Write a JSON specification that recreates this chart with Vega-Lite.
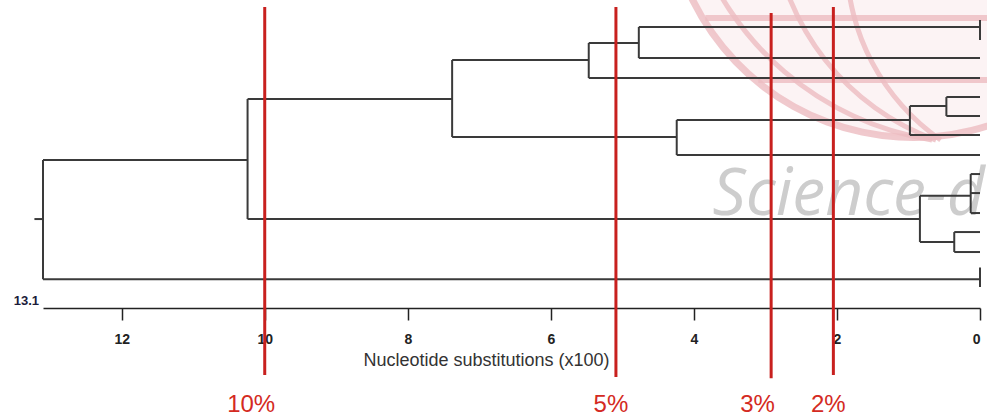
{
  "$schema": "https://vega.github.io/schema/vega-lite/v6.json",
  "width": 937,
  "height": 308,
  "autosize": {"type": "none"},
  "padding": {"left": 43, "top": 0, "right": 7, "bottom": 111},
  "background": "white",
  "config": {
    "view": {"stroke": null},
    "axisX": {
      "grid": false,
      "domainColor": "#222", "domainWidth": 1.5,
      "tickColor": "#222", "tickWidth": 1.5, "tickSize": 12,
      "labelPadding": 12, "labelFont": "Liberation Sans", "labelFontSize": 14,
      "labelFontWeight": "bold", "labelColor": "#222",
      "titleFont": "Liberation Sans", "titleFontSize": 18, "titleFontWeight": "normal",
      "titleColor": "#333", "titleX": 443, "titleY": 43, "titleBaseline": "top", "titleAlign": "center"
    }
  },
  "datasets": {
    "segs": [
      {"x": 13.22, "x2": 13.1, "y": 9.9, "y2": 9.9},
      {"x": 13.1, "x2": 10.24, "y": 6.86, "y2": 6.86},
      {"x": 13.1, "x2": 0, "y": 13.0, "y2": 13.0},
      {"x": 13.1, "x2": 13.1, "y": 6.86, "y2": 13.0},
      {"x": 10.24, "x2": 10.24, "y": 3.71, "y2": 9.9},
      {"x": 10.24, "x2": 7.38, "y": 3.71, "y2": 3.71},
      {"x": 10.24, "x2": 0.84, "y": 9.9, "y2": 9.9},
      {"x": 7.38, "x2": 7.38, "y": 1.7, "y2": 5.67},
      {"x": 7.38, "x2": 5.47, "y": 1.7, "y2": 1.7},
      {"x": 7.38, "x2": 4.24, "y": 5.67, "y2": 5.67},
      {"x": 5.47, "x2": 5.47, "y": 0.825, "y2": 2.63},
      {"x": 5.47, "x2": 4.77, "y": 0.825, "y2": 0.825},
      {"x": 5.47, "x2": 0, "y": 2.63, "y2": 2.63},
      {"x": 4.77, "x2": 4.77, "y": 0, "y2": 1.6},
      {"x": 4.77, "x2": 0, "y": 0, "y2": 0},
      {"x": 4.77, "x2": 0, "y": 1.6, "y2": 1.6},
      {"x": 4.24, "x2": 4.24, "y": 4.79, "y2": 6.6},
      {"x": 4.24, "x2": 0.98, "y": 4.79, "y2": 4.79},
      {"x": 4.24, "x2": 0, "y": 6.6, "y2": 6.6},
      {"x": 0.98, "x2": 0.98, "y": 4.07, "y2": 5.57},
      {"x": 0.98, "x2": 0.47, "y": 4.07, "y2": 4.07},
      {"x": 0.98, "x2": 0, "y": 5.57, "y2": 5.57},
      {"x": 0.47, "x2": 0.47, "y": 3.61, "y2": 4.59},
      {"x": 0.47, "x2": 0, "y": 3.61, "y2": 3.61},
      {"x": 0.47, "x2": 0, "y": 4.59, "y2": 4.59},
      {"x": 0.84, "x2": 0.84, "y": 8.7, "y2": 11.08},
      {"x": 0.84, "x2": 0.13, "y": 8.7, "y2": 8.7},
      {"x": 0.84, "x2": 0.36, "y": 11.08, "y2": 11.08},
      {"x": 0.13, "x2": 0.13, "y": 7.58, "y2": 9.59},
      {"x": 0.13, "x2": 0, "y": 7.58, "y2": 7.58},
      {"x": 0.13, "x2": 0, "y": 8.56, "y2": 8.56},
      {"x": 0.13, "x2": 0, "y": 9.59, "y2": 9.59},
      {"x": 0.36, "x2": 0.36, "y": 10.57, "y2": 11.6},
      {"x": 0.36, "x2": 0, "y": 10.57, "y2": 10.57},
      {"x": 0.36, "x2": 0, "y": 11.6, "y2": 11.6},
      {"x": 0, "x2": 0, "y": -0.36, "y2": 0.67},
      {"x": 0, "x2": 0, "y": 12.4, "y2": 13.4}
    ],
    "cuts": [
      {"label": "10%", "x": 10.0, "y": -1.03, "y2": 17.94, "lx": 10.19, "ly": 19.85},
      {"label": "5%", "x": 5.09, "y": -1.03, "y2": 18.04, "lx": 5.16, "ly": 19.85},
      {"label": "3%", "x": 2.92, "y": -0.72, "y2": 18.1, "lx": 3.11, "ly": 19.85},
      {"label": "2%", "x": 2.05, "y": -1.03, "y2": 17.94, "lx": 2.12, "ly": 19.85}
    ],
    "globe": [{"name": "outer", "x": 0.935, "y": -6.96}],
    "m1": [{"x": 0.011, "y": -9.42}],
    "m2": [{"x": -0.576, "y": -6.26}],
    "m3": [{"x": -1.204, "y": -3.46}],
    "lat": [
      {"x": 3.84, "x2": -0.2, "y": -0.46},
      {"x": 3.1, "x2": -0.2, "y": 2.73}
    ],
    "mark": [{"text": "Science-d", "x": 3.74, "y": 9.69}],
    "start": [{"text": "13.1", "x": 13.1, "y": 14.33}]
  },
  "layer": [
    {
      "data": {"name": "globe"},
      "mark": {"type": "arc", "radius": 245, "radius2": 0, "theta": 2.0, "theta2": 4.4, "fill": "#fbeef0", "opacity": 0.7},
      "encoding": {
        "x": {"field": "x", "type": "quantitative", "title": "Nucleotide substitutions (x100)"},
        "y": {"field": "y", "type": "quantitative", "axis": null}
      }
    },
    {
      "data": {"name": "globe"},
      "mark": {"type": "arc", "radius": 249, "radius2": 242, "theta": 2.0, "theta2": 4.4, "fill": "#ecbcc1", "opacity": 0.8},
      "encoding": {
        "x": {"field": "x", "type": "quantitative", "title": "Nucleotide substitutions (x100)"},
        "y": {"field": "y", "type": "quantitative", "axis": null}
      }
    },
    {
      "data": {"name": "m1"},
      "mark": {"type": "arc", "radius": 302, "radius2": 297, "theta": 3.3, "theta2": 4.4, "fill": "#ecbcc1", "opacity": 0.8},
      "encoding": {
        "x": {"field": "x", "type": "quantitative", "title": "Nucleotide substitutions (x100)"},
        "y": {"field": "y", "type": "quantitative", "axis": null}
      }
    },
    {
      "data": {"name": "m2"},
      "mark": {"type": "arc", "radius": 252, "radius2": 247, "theta": 3.49, "theta2": 4.6, "fill": "#ecbcc1", "opacity": 0.8},
      "encoding": {
        "x": {"field": "x", "type": "quantitative", "title": "Nucleotide substitutions (x100)"},
        "y": {"field": "y", "type": "quantitative", "axis": null}
      }
    },
    {
      "data": {"name": "m3"},
      "mark": {"type": "arc", "radius": 222, "radius2": 217, "theta": 3.75, "theta2": 4.7, "fill": "#ecbcc1", "opacity": 0.8},
      "encoding": {
        "x": {"field": "x", "type": "quantitative", "title": "Nucleotide substitutions (x100)"},
        "y": {"field": "y", "type": "quantitative", "axis": null}
      }
    },
    {
      "data": {"name": "lat"},
      "mark": {"type": "rule", "color": "#ecbcc1", "strokeWidth": 6, "opacity": 0.8},
      "encoding": {
        "x": {"field": "x", "type": "quantitative", "title": "Nucleotide substitutions (x100)"},
        "x2": {"field": "x2"},
        "y": {"field": "y", "type": "quantitative", "axis": null}
      }
    },
    {
      "data": {"name": "mark"},
      "mark": {"type": "text", "font": "Open Sans", "fontStyle": "italic", "fontSize": 66, "color": "#cdcdcd", "align": "left", "baseline": "alphabetic"},
      "encoding": {
        "x": {"field": "x", "type": "quantitative", "title": "Nucleotide substitutions (x100)"},
        "y": {"field": "y", "type": "quantitative", "axis": null},
        "text": {"field": "text"}
      }
    },
    {
      "data": {"name": "segs"},
      "mark": {"type": "rule", "color": "#3a3a3a", "strokeWidth": 2},
      "encoding": {
        "x": {
          "field": "x", "type": "quantitative",
          "title": "Nucleotide substitutions (x100)",
          "scale": {"domain": [0, 13.1], "reverse": true, "nice": false, "zero": false},
          "axis": {"values": [0, 2, 4, 6, 8, 10, 12], "format": "d"}
        },
        "x2": {"field": "x2"},
        "y": {
          "field": "y", "type": "quantitative",
          "scale": {"domain": [-1.392, 14.485], "reverse": true, "nice": false, "zero": false},
          "axis": null
        },
        "y2": {"field": "y2"}
      }
    },
    {
      "data": {"name": "cuts"},
      "mark": {"type": "rule", "color": "#c8201e", "strokeWidth": 3},
      "encoding": {
        "x": {"field": "x", "type": "quantitative", "title": "Nucleotide substitutions (x100)"},
        "y": {"field": "y", "type": "quantitative", "axis": null},
        "y2": {"field": "y2"}
      }
    },
    {
      "data": {"name": "cuts"},
      "mark": {"type": "text", "font": "Liberation Sans", "fontSize": 24, "color": "#d42a22", "align": "center", "baseline": "alphabetic"},
      "encoding": {
        "x": {"field": "lx", "type": "quantitative", "title": "Nucleotide substitutions (x100)"},
        "y": {"field": "ly", "type": "quantitative", "axis": null},
        "text": {"field": "label"}
      }
    },
    {
      "data": {"name": "start"},
      "mark": {"type": "text", "font": "Liberation Sans", "fontSize": 13, "fontWeight": "bold", "color": "#1c1c3a", "align": "right", "baseline": "alphabetic", "dx": -4},
      "encoding": {
        "x": {"field": "x", "type": "quantitative", "title": "Nucleotide substitutions (x100)"},
        "y": {"field": "y", "type": "quantitative", "axis": null},
        "text": {"field": "text"}
      }
    }
  ]
}
